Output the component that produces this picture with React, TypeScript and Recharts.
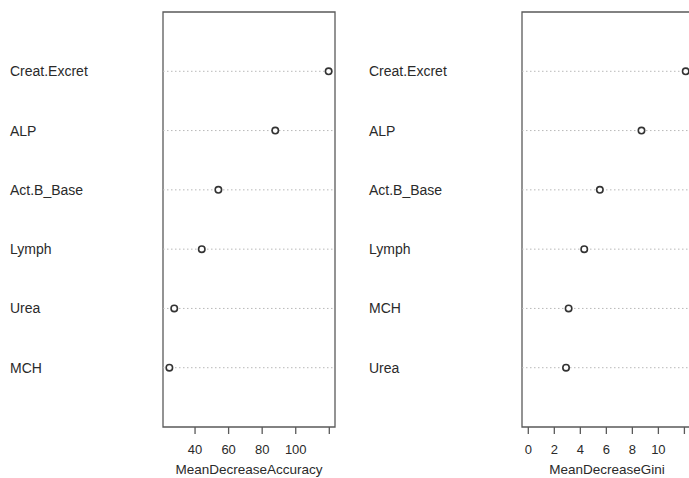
import React from 'react';
import { ScatterChart, Scatter, XAxis, YAxis, ReferenceLine, ReferenceArea, Label } from 'recharts';

// Left panel: MeanDecreaseAccuracy (top row first)
const accCategories = ['Creat.Excret', 'ALP', 'Act.B_Base', 'Lymph', 'Urea', 'MCH'];
const accValues = [119.6, 87.8, 53.9, 44.0, 27.6, 24.7];
const accTicks = [40, 60, 80, 100, 120];
const accTickLabels = ['40', '60', '80', '100', ''];

// Right panel: MeanDecreaseGini (top row first)
const giniCategories = ['Creat.Excret', 'ALP', 'Act.B_Base', 'Lymph', 'MCH', 'Urea'];
const giniValues = [12.1, 8.7, 5.5, 4.3, 3.1, 2.9];
const giniTicks = [0, 2, 4, 6, 8, 10, 12];
const giniTickLabels = ['0', '2', '4', '6', '8', '10', ''];

const FONT = '"Liberation Sans", Arial, sans-serif';
const TEXT = '#2a2a2a';
const BOX = '#5a5a5a';

function buildRows(cats: string[], vals: number[]) {
  const n = cats.length;
  return cats.map((c, i) => ({ name: c, value: vals[i], row: n - i }));
}

function extend(lo: number, hi: number): [number, number] {
  const d = (hi - lo) * 0.04;
  return [lo - d, hi + d];
}

const Dot = (props: any) => {
  const { cx, cy } = props;
  return <circle cx={cx} cy={cy} r={3.2} fill="#fff" stroke="#333" strokeWidth={1.6} />;
};

function Panel({ cats, vals, ticks, tickLabels, xmin, title, labelX, width }: any) {
  const data = buildRows(cats, vals);
  const n = cats.length;
  const domain = extend(xmin, Math.max(...vals));
  const rowTicks = data.map((d) => d.row);
  const nameByRow: Record<number, string> = {};
  data.forEach((d) => (nameByRow[d.row] = d.name));
  const labelByTick: Record<number, string> = {};
  ticks.forEach((t: number, i: number) => (labelByTick[t] = tickLabels[i]));

  const YTick = (p: any) => (
    <text x={labelX} y={p.y} dy={5} textAnchor="start" fontSize={14} fill={TEXT} fontFamily={FONT}>
      {nameByRow[p.payload.value]}
    </text>
  );

  return (
    <ScatterChart
      width={width}
      height={478}
      margin={{ top: 12, right: 11, bottom: 0, left: 0 }}
      style={{ fontFamily: FONT }}
    >
      <XAxis
        type="number"
        dataKey="value"
        domain={domain}
        ticks={ticks}
        allowDataOverflow
        height={51}
        axisLine={false}
        tickLine={{ stroke: BOX, strokeWidth: 1.3 }}
        tickSize={7}
        tickMargin={11}
        tick={{ fontSize: 13, fill: TEXT, fontFamily: FONT }}
        tickFormatter={(v: number) => labelByTick[v] ?? ''}
        interval={0}
      >
        <Label value={title} position="insideBottom" offset={4} fontSize={13.5} fill={TEXT} fontFamily={FONT} />
      </XAxis>
      <YAxis
        type="number"
        dataKey="row"
        domain={[0, n + 1]}
        ticks={rowTicks}
        width={162}
        axisLine={false}
        tickLine={false}
        tick={<YTick />}
        interval={0}
      />
      {data.map((d) => (
        <ReferenceLine
          key={d.name}
          y={d.row}
          stroke="#b8b8b8"
          strokeDasharray="1.5 2.5"
          strokeWidth={1}
        />
      ))}
      <ReferenceArea
        x1={domain[0]}
        x2={domain[1]}
        y1={0}
        y2={n + 1}
        fill="none"
        fillOpacity={0}
        stroke={BOX}
        strokeWidth={1.3}
        strokeOpacity={1}
        ifOverflow="visible"
      />
      <Scatter data={data} shape={<Dot />} isAnimationActive={false} />
    </ScatterChart>
  );
}

export default function App() {
  return (
    <div
      style={{
        position: 'absolute',
        left: 0,
        top: 0,
        width: 689,
        height: 478,
        overflow: 'hidden',
        background: '#fff',
      }}
    >
      <div style={{ position: 'absolute', left: 1, top: 0 }}>
        <Panel
          cats={accCategories}
          vals={accValues}
          ticks={accTicks}
          tickLabels={accTickLabels}
          xmin={Math.min(...accValues)}
          title="MeanDecreaseAccuracy"
          labelX={9}
          width={345}
        />
      </div>
      <div style={{ position: 'absolute', left: 360, top: 0 }}>
        <Panel
          cats={giniCategories}
          vals={giniValues}
          ticks={giniTicks}
          tickLabels={giniTickLabels}
          xmin={0}
          title="MeanDecreaseGini"
          labelX={9}
          width={343}
        />
      </div>
    </div>
  );
}
